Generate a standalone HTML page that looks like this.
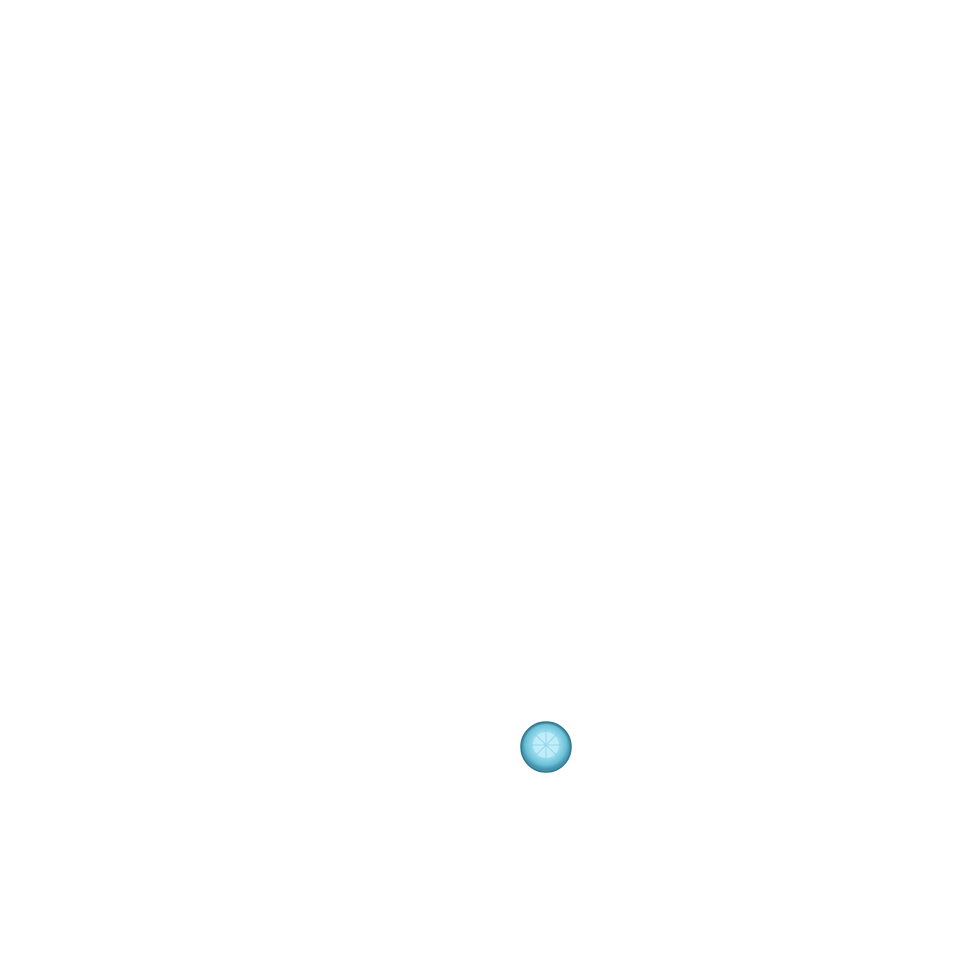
<!DOCTYPE html>
<html><head><meta charset="utf-8"><style>
html,body{margin:0;padding:0;width:956px;height:955px;background:#fff;overflow:hidden}
</style></head><body>
<svg width="956" height="955" style="position:absolute;left:0;top:0">
<defs>
<radialGradient id="g" cx="0.5" cy="0.45" r="0.55">
<stop offset="0" stop-color="#d8f4fb"/>
<stop offset="0.45" stop-color="#a6e4f4"/>
<stop offset="0.8" stop-color="#6cc0d8"/>
<stop offset="1" stop-color="#3d8aa3"/>
</radialGradient>
</defs>
<circle cx="546" cy="747" r="25" fill="#4a95ae"/>
<circle cx="546" cy="747" r="23" fill="url(#g)"/>
<circle cx="546" cy="745" r="13" fill="#c4eefa" opacity="0.8"/>
<g stroke="#7fcfe4" stroke-width="1" opacity="0.7">
<line x1="546" y1="730" x2="546" y2="762"/>
<line x1="531" y1="745" x2="561" y2="745"/>
<line x1="535" y1="734" x2="557" y2="756"/>
<line x1="557" y1="734" x2="535" y2="756"/>
</g>
<circle cx="546" cy="747" r="25" fill="none" stroke="#2f7890" stroke-width="1.5"/>
</svg>
</body></html>
